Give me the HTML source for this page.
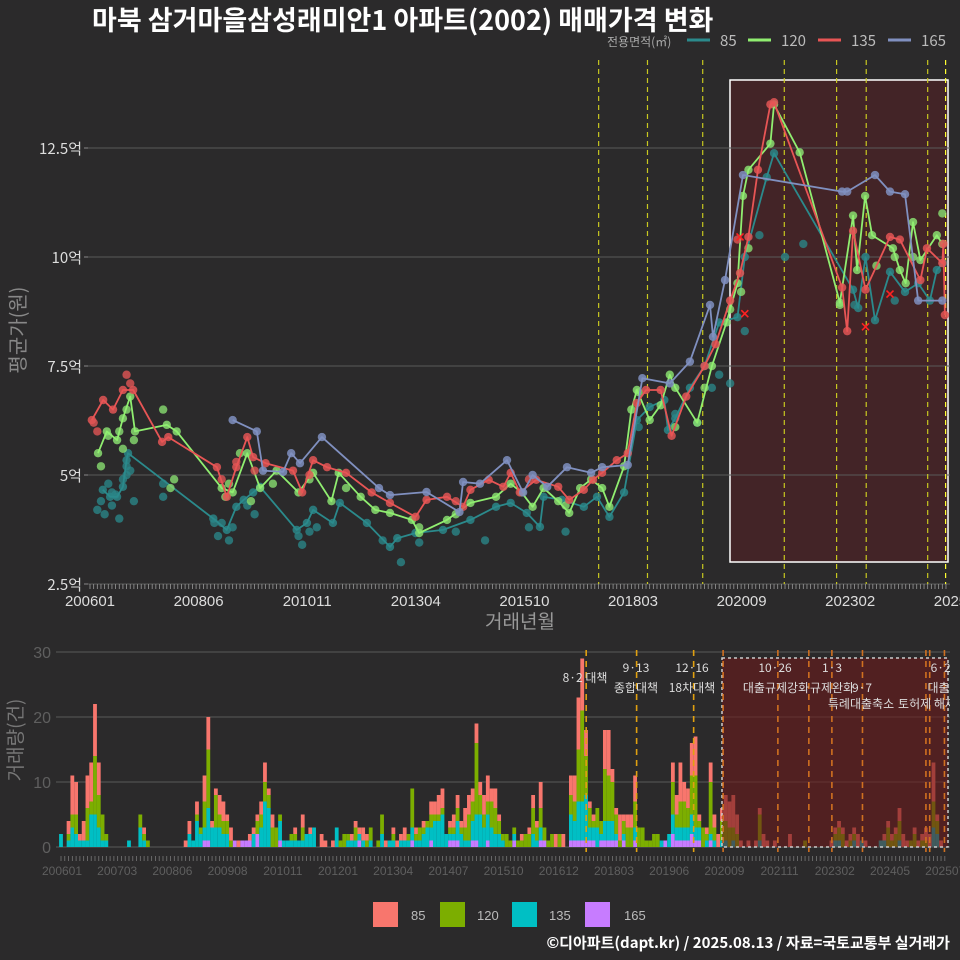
<!DOCTYPE html>
<html><head><meta charset="utf-8">
<style>
html,body{margin:0;padding:0;background:#2b2a2b;}
svg{display:block;font-family:"Liberation Sans","Noto Sans CJK KR",sans-serif;}
</style></head>
<body>
<svg id="chart" width="960" height="960" viewBox="0 0 960 960" xmlns="http://www.w3.org/2000/svg">
<rect width="960" height="960" fill="#2b2a2b"/>
<text x="92" y="30" fill="#ffffff" font-size="27" font-weight="bold" font-family="'Noto Sans CJK KR',sans-serif">마북 삼거마을삼성래미안1 아파트(2002) 매매가격 변화</text>
<g font-size="13" font-family="'Noto Sans CJK KR',sans-serif">
<text x="607" y="46" fill="#aaaaaa" font-size="12">전용면적(㎡)</text>
<g><line x1="687" y1="40" x2="710" y2="40" stroke="#2b8a8c" stroke-width="3"/><text x="720" y="46" fill="#bbbbbb" font-size="15">85</text></g>
<g><line x1="748" y1="40" x2="771" y2="40" stroke="#90ee70" stroke-width="3"/><text x="781" y="46" fill="#bbbbbb" font-size="15">120</text></g>
<g><line x1="818" y1="40" x2="841" y2="40" stroke="#e85555" stroke-width="3"/><text x="851" y="46" fill="#bbbbbb" font-size="15">135</text></g>
<g><line x1="888" y1="40" x2="911" y2="40" stroke="#8090c0" stroke-width="3"/><text x="921" y="46" fill="#bbbbbb" font-size="15">165</text></g>
</g>
<g id="top"></g>
<g id="bot"></g>
<g font-size="13">
<g><rect x="373" y="902" width="25" height="25" fill="#f8766d"/><text x="411" y="920" fill="#bbbbbb">85</text></g>
<g><rect x="440" y="902" width="25" height="25" fill="#7cae00"/><text x="477" y="920" fill="#bbbbbb">120</text></g>
<g><rect x="512" y="902" width="25" height="25" fill="#00bfc4"/><text x="549" y="920" fill="#bbbbbb">135</text></g>
<g><rect x="585" y="902" width="25" height="25" fill="#c77cff"/><text x="624" y="920" fill="#bbbbbb">165</text></g>
</g>
<text x="950" y="948" text-anchor="end" fill="#ffffff" font-size="15" font-weight="bold" font-family="'Noto Sans CJK KR',sans-serif">©디아파트(dapt.kr) / 2025.08.13 / 자료=국토교통부 실거래가</text>
</svg>
<script>
const line85 = [[3.5,4.66],[5.5,4.5],[7.4,4.5],[9,4.73],[10,5.34],[10.4,5.5],[33.7,4.0],[37.4,3.74],[40,4.27],[42,4.43],[44.6,4.6],[46.5,4.73],[56.5,3.74],[59.3,3.9],[61,4.2],[66.4,3.9],[68.3,4.36],[75.7,3.9],[82,3.35],[84,3.55],[89,3.67],[96.5,3.74],[104,3.97],[111,4.27],[115,4.36],[119.4,4.13],[123,3.81],[124,4.5],[129,4.43],[135,4.27],[138.6,4.5],[142,4.04],[146,4.6],[149.5,6.26],[153,6.56],[157,6.72],[158,6.03],[160,6.3],[164,7.0],[168,7.5],[172,8.5],[177,8.62],[179,10.0],[185,11.83],[187,12.38],[208.6,9.25],[210,8.83],[212,10.0],[214.6,8.55],[218.7,9.66],[222.8,9.2],[226.4,9.4],[229.6,9.0],[231.5,9.7],[233.2,9.86]];
const line120 = [[2.2,5.5],[4.6,6.0],[7.4,5.8],[9,6.3],[11,6.8],[12.3,6.0],[21,6.15],[23.7,6.0],[36,4.7],[39,4.6],[43,5.5],[46.5,4.7],[51,5.1],[57,4.6],[61,5.05],[66,4.4],[68,5.05],[74,4.5],[78,4.2],[82,4.13],[88,3.97],[90,3.67],[97.6,3.97],[104,4.36],[111,4.5],[115,4.8],[118,4.6],[121,4.27],[124,4.7],[128,4.4],[131,4.13],[134,4.7],[137,4.9],[140,4.7],[142,4.27],[146,5.2],[148,6.5],[149.5,6.95],[153,6.26],[156,6.6],[158.5,7.3],[160,7.0],[166,6.2],[170,7.5],[174,8.5],[177,9.4],[178.5,11.4],[180,12.0],[186,12.6],[187,13.5],[194,12.4],[205,8.95],[208.6,10.95],[209.7,9.7],[211.9,11.4],[213.8,10.5],[219.5,10.2],[221.4,9.7],[223,9.4],[225,10.8],[227,9.93],[231.5,10.5],[233,10.3]];
const line135 = [[0.5,6.26],[3.6,6.72],[6.3,6.5],[9,6.95],[11.8,6.95],[19.7,5.76],[21.4,5.87],[34.7,5.18],[37.4,4.5],[40,5.18],[43,5.87],[44.6,5.41],[48,5.27],[55.5,5.1],[58,4.6],[61,5.34],[64.8,5.18],[70,5.05],[77,4.6],[82,4.36],[89,4.04],[92,4.43],[97.6,4.5],[102,4.27],[104,4.66],[109,4.89],[113,4.73],[115,5.05],[117.5,4.6],[122,4.89],[128,4.73],[131,4.43],[135,4.66],[137.5,4.89],[140,5.05],[144,5.34],[147,5.5],[149.5,6.65],[152,6.95],[156,6.95],[159,5.9],[163,6.8],[168,7.5],[171,8.0],[175,9.0],[177.7,9.63],[180,10.46],[182.6,12.0],[186,13.5],[187,13.55],[205.6,9.3],[207,8.3],[208.6,10.6],[212,9.25],[218.7,10.46],[221.4,10.4],[227,9.47],[228.8,10.2],[233,9.86],[233.3,10.3],[233.7,8.67]];
const line165 = [[39,6.26],[45.6,6.0],[47.3,5.1],[52.8,5.07],[55,5.5],[57.4,5.27],[63.4,5.87],[79,4.7],[82,4.54],[92,4.61],[101,4.15],[102,4.84],[106.6,4.8],[114,5.34],[118.4,4.6],[121,5.0],[125,4.73],[130.4,5.18],[137,5.05],[140,5.18],[147,5.23],[151,7.22],[158.5,7.1],[164,7.6],[169.5,8.9],[170.3,8.17],[173.6,9.47],[178.5,11.88],[205.6,11.5],[207,11.5],[214.6,11.88],[218.7,11.5],[222.8,11.44],[226.4,9.0],[233,9.0]];
const extra85 = [[2,4.2],[3,4.4],[4,4.1],[5,4.8],[6,4.3],[8,4.0],[9,4.9],[10,5.2],[11,5.1],[12,4.4],[7,4.55],[6,4.6],[10,5.0],[20,4.5],[20,4.8],[34,3.9],[35,3.6],[36,3.9],[38,3.5],[39,3.8],[43,4.3],[45,4.1],[57,3.6],[58,3.4],[60,3.7],[62,3.8],[80,3.5],[85,3.0],[90,3.45],[100,3.7],[108,3.5],[120,3.8],[130,3.7],[150,6.1],[160,6.4],[166,6.2],[170,7.0],[172,7.3],[175,7.1],[179,8.3],[183,10.5],[190,10.0],[195,10.3],[209,8.9],[220,9.0]];
const extra120 = [[3,5.2],[5,5.9],[8,6.0],[9,5.6],[10,6.5],[12,5.8],[20,6.5],[22,4.7],[23,4.9],[37,4.5],[38,4.8],[41,5.5],[44,4.4],[50,4.8],[60,4.9],[70,4.7],[90,3.8],[100,4.1],[130,4.3],[150,6.9],[160,6.1],[168,7.0],[175,8.8],[178,9.2],[180,10.2],[205,8.9],[215,9.8],[220,10.0],[225,10.0],[233,11.0]];
const extra135 = [[1,6.2],[2,6.0],[10,7.3],[11,7.1],[36,4.9],[40,5.3],[45,5.1],[60,5.0],[100,4.4],[120,4.9],[177,10.4]];
const crossMarks = [[177.7,10.46],[179,8.7],[212,8.4],[218.7,9.15]];
const yTicks = [2.5,5,7.5,10,12.5];
const yTickLabels = ["2.5억","5억","7.5억","10억","12.5억"];
const xTickLabels = ["200601","200806","201011","201304","201510","201803","202009","202302","202507"];
const policyMonthsTop = [139.05,152.4,167.5,189.8,204.1,212.2,229,233.9];

const vol85 = [0,0,2,6,5,1,3,5,6,8,5,0, 0,0,0,0,0,0,0,0,0,0,1,0, 0,0,0,0,0,0,0,0,0,1,2,0, 2,0,4,5,1,1,3,3,1,2,0,1, 0,0,1,1,1,2,3,1,2,0,0,0, 0,0,1,0,2,0,1,0,0,2,1,0, 1,0,0,0,0,1,1,1,2,1,0,0, 0,0,1,0,1,1,1,2,0,0,1,0, 1,0,2,2,3,3,0,1,2,2,1,3, 3,2,3,2,3,4,2,3,1,0,0,0, 0,0,1,0,1,2,1,4,0,0,0,2, 0,2,0,3,4,8,8,4,1,1,0,0, 6,7,2,1,4,1,2,2,4,0,0,0, 0,0,0,0,0,0,3,3,6,3,3,5, 6,1,0,1,3,2,2,2,4,4,5,3, 1,0,1,0,1,1,2,1,0,1,0,0, 0,2,0,0,0,0,0,0,0,0,0,0, 1,1,1,1,1,1,1,2,0,1,0,0, 0,0,1,1,1,1,2,2,1,0,1,1, 1,2,2,6,1,1,0];
const vol120 = [0,0,1,2,3,0,0,5,2,9,5,4, 1,0,0,0,0,0,0,0,0,2,1,1, 0,0,0,0,0,0,0,0,0,0,0,0, 1,1,4,9,0,5,2,2,2,1,0,0, 0,0,0,0,2,2,3,2,3,3,1,0, 0,1,1,0,2,0,0,0,0,0,0,0, 0,0,1,2,1,0,2,0,0,1,2,0, 1,3,0,0,1,0,0,0,1,6,1,2, 1,1,2,1,1,1,0,1,1,2,1,2, 4,3,11,3,2,2,4,4,2,1,2,1, 1,1,1,2,2,4,2,3,2,1,2,0, 2,0,0,3,3,8,14,6,3,1,3,2, 8,7,6,3,1,2,3,3,4,3,3,1, 1,2,2,0,0,0,5,2,4,4,3,6, 8,1,3,1,8,2,0,3,3,3,2,2, 0,0,0,0,0,4,0,0,0,0,0,0, 0,0,0,0,0,1,0,0,0,0,0,0, 0,1,2,2,0,1,1,0,0,0,0,0, 0,0,0,3,1,2,3,0,0,1,2,0, 1,1,0,4,2,0,0];
const vol135 = [2,0,1,3,2,1,1,1,5,5,3,1, 1,0,0,0,0,0,1,0,0,3,1,0, 0,0,0,0,0,0,0,0,0,0,2,1, 4,2,2,5,3,3,3,2,2,0,0,0, 0,0,0,2,0,3,7,6,0,0,3,1, 1,1,1,1,1,2,2,3,0,0,0,0, 0,3,0,0,1,1,1,1,1,0,1,0, 0,2,0,1,1,0,1,1,1,2,1,1, 2,3,2,4,4,5,2,1,1,3,2,1, 1,3,4,5,3,4,3,2,2,1,0,0, 1,0,0,0,0,2,1,2,0,0,0,0, 0,0,0,4,3,6,6,7,2,2,3,1, 3,3,3,1,0,1,0,0,2,0,0,0, 0,0,0,1,0,2,3,2,2,2,2,3, 2,2,0,1,1,1,0,1,1,0,1,0, 0,0,0,0,0,1,0,0,0,0,0,0, 0,0,0,0,0,0,0,0,0,0,0,0, 0,1,1,0,0,0,1,0,1,0,0,0, 0,1,1,0,0,0,1,0,0,0,0,0, 0,0,0,3,2,0,0];
const vol165 = [0,0,0,0,0,0,0,0,0,0,0,0, 0,0,0,0,0,0,0,0,0,0,0,0, 0,0,0,0,0,0,0,0,0,0,0,0, 0,0,1,1,0,0,0,0,0,0,1,0, 1,1,1,0,2,0,0,0,0,0,1,0, 0,0,0,0,0,0,0,0,0,0,0,0, 0,0,0,0,0,0,0,1,0,0,0,0, 0,0,0,0,0,0,0,0,0,1,0,0, 0,0,1,0,0,0,0,1,1,1,0,0, 0,1,1,0,0,1,0,0,0,0,0,0, 1,0,0,0,0,0,0,1,1,0,0,0, 0,0,0,1,1,1,1,1,1,1,0,1, 1,1,1,1,0,1,0,0,1,0,0,0, 0,0,0,0,1,0,2,1,1,1,1,2, 1,1,0,0,1,0,0,0,0,0,0,0, 0,0,0,0,0,0,0,0,0,0,0,0, 0,0,0,0,0,0,0,0,0,0,0,0, 0,0,0,0,0,0,0,0,0,0,0,0, 0,0,0,0,0,0,0,0,0,0,0,0, 0,0,0,0,0,0,0];
const volTicks = [0,10,20,30];
const volXLabels = ["200601","200703","200806","200908","201011","201201","201304","201407","201510","201612","201803","201906","202009","202111","202302","202405","202507"];
const policyMonthsBot = [139.05,152.4,167.5,175.3,189.8,198,204.1,212.2,229,230,233.9];

const NS="http://www.w3.org/2000/svg";
function mk(parent,tag,attrs,text){const e=document.createElementNS(NS,tag);for(const k in attrs)e.setAttribute(k,attrs[k]);if(text!==undefined)e.textContent=text;parent.appendChild(e);return e;}

const tx = m => 90 + 3.658*m;
const ty = v => 584 - (v-2.5)*43.6;
const topG = document.getElementById('top');
const shade = mk(topG,'rect',{x:730,y:80,width:218,height:482,fill:'#432427',stroke:'#ffffff','stroke-width':1.5});


yTicks.forEach((t,i)=>{
  const g = mk(topG,'g',{});
  
  
  mk(g,'line',{x1:88,x2:950,y1:ty(t),y2:ty(t),stroke:'#5a5a5a','stroke-width':1});
  mk(g,'line',{x1:84,x2:88,y1:ty(t),y2:ty(t),stroke:'#888'});
  mk(g,'text',{x:82,y:ty(t)+6,'text-anchor':'end',fill:'#dddddd','font-size':15,'font-family':"'Noto Sans CJK KR',sans-serif"},yTickLabels[i]);
});
for(let m=0;m<=234;m++){ mk(topG,'line',{x1:tx(m),x2:tx(m),y1:584,y2:589,stroke:'#999','stroke-width':0.8}); }
xTickLabels.forEach((l,i)=>{
  const t = mk(topG,'text',{x:90+i*108.6,y:606,'text-anchor':'middle',fill:'#dddddd','font-size':15},l);
  
  
});
policyMonthsTop.forEach((m,i)=>{
  const l = mk(topG,'line',{x1:tx(m),x2:tx(m),y1:60,y2:584,stroke:i===7?'#ffff33':'#c8c820','stroke-width':1.2,'stroke-dasharray':'5,4'});
  
  
});
const t1 = mk(topG,'text',{x:520,y:628,'text-anchor':'middle',fill:'#999','font-size':19,'font-family':"'Noto Sans CJK KR',sans-serif"},'거래년월');


const t2 = mk(topG,'text',{x:25,y:330,'text-anchor':'middle',fill:'#888','font-size':20,transform:'rotate(-90 25 330)','font-family':"'Noto Sans CJK KR',sans-serif"},'평균가(원)');



const series = [
  {name:'85',line:line85,extra:extra85,col:'#2b8a8c',pt:'#2a8587'},
  {name:'120',line:line120,extra:extra120,col:'#90ee70',pt:'#88dd70'},
  {name:'135',line:line135,extra:extra135,col:'#e85555',pt:'#e05555'},
  {name:'165',line:line165,extra:[],col:'#8090c0',pt:'#7f8fbf'}
];
series.forEach(s=>{
  const g = mk(topG,'g',{});
  
  
  s.extra.forEach(p=>{ const c=mk(g,'circle',{cx:tx(p[0]),cy:ty(p[1]),r:4.2,fill:s.pt,'fill-opacity':0.8});
    
     });
  s.line.forEach(p=>{ const c=mk(g,'circle',{cx:tx(p[0]),cy:ty(p[1]),r:4.2,fill:s.pt,'fill-opacity':0.85});
    
     });
  const path = mk(g,'polyline',{points:s.line.map(p=>tx(p[0]).toFixed(1)+','+ty(p[1]).toFixed(1)).join(' '),fill:'none',stroke:s.col,'stroke-width':1.8,'stroke-linejoin':'round'});
  
  
});
crossMarks.forEach(p=>{
  const x=tx(p[0]),y=ty(p[1]);
  const c = mk(topG,'path',{d:`M${x-3.5},${y-3.5}L${x+3.5},${y+3.5}M${x-3.5},${y+3.5}L${x+3.5},${y-3.5}`,stroke:'#ff2222','stroke-width':1.6});
  
  
});

const bx = m => 61 + 3.777*m;
const by = v => 847 - v*6.5;
const bot = document.getElementById('bot');
volTicks.forEach(t=>{
  const g = mk(bot,'g',{});
  
  
  mk(g,'line',{x1:56,x2:950,y1:by(t),y2:by(t),stroke:'#5a5a5a','stroke-width':1});
  mk(g,'text',{x:51,y:by(t)+6,'text-anchor':'end',fill:'#5f5f5f','font-size':16},String(t));
});
const cols = ['#c77cff','#00bfc4','#7cae00','#f8766d'];
const stacks = [vol165,vol135,vol120,vol85];
for(let m=0;m<vol85.length;m++){
  let base=0;
  stacks.forEach((arr,k)=>{
    const v=arr[m]; if(!v) return;
    const r = mk(bot,'rect',{x:bx(m)-1.9,y:by(base+v),width:3.8,height:v*6.5,fill:cols[k]});
    
    
    base+=v;
  });
}
const bshade = mk(bot,'rect',{x:722,y:658,width:226,height:189,fill:'#6a1a1a','fill-opacity':0.6,stroke:'#cccccc','stroke-width':1.5,'stroke-dasharray':'3,3'});


for(let m=0;m<=234;m++){ mk(bot,'line',{x1:bx(m),x2:bx(m),y1:856,y2:861,stroke:'#777','stroke-width':0.8}); }
volXLabels.forEach((l,i)=>{
  const t=mk(bot,'text',{x:62+i*55.2,y:875,'text-anchor':'middle',fill:'#5f5f5f','font-size':12},l);
  
  
});
policyMonthsBot.forEach(m=>{
  const inside = bx(m)>722;
  const l = mk(bot,'line',{x1:bx(m),x2:bx(m),y1:650,y2:852,stroke:inside?'#d07020':'#e0a010','stroke-width':1.6,'stroke-dasharray':'6,5'});
  
  
});
const ann = [["8·2 대책",585,682],["9·13",636,672],["종합대책",636,692],["12·16",692,672],["18차대책",692,692],["10·26",775,672],["대출규제강화",776,692],["1·3",832,672],["규제완화",832,692],["9·7",862,692],["특례대출축소",861,708],["토허제 해제",927,708],["6·27",944,672],["대출규",944,692]];
const clip = mk(bot,'clipPath',{id:'bclip'}); mk(clip,'rect',{x:0,y:640,width:950,height:100});
const ag = mk(bot,'g',{'clip-path':'url(#bclip)'});
ann.forEach(a=>{
  const t = mk(ag,'text',{x:a[1],y:a[2],'text-anchor':'middle',fill:'#dddddd','font-size':12,'font-family':"'Noto Sans CJK KR',sans-serif"},a[0]);
  
  
});
const t3 = mk(bot,'text',{x:22,y:740,'text-anchor':'middle',fill:'#777','font-size':19,transform:'rotate(-90 22 740)','font-family':"'Noto Sans CJK KR',sans-serif"},'거래량(건)');


</script>
</body></html>
